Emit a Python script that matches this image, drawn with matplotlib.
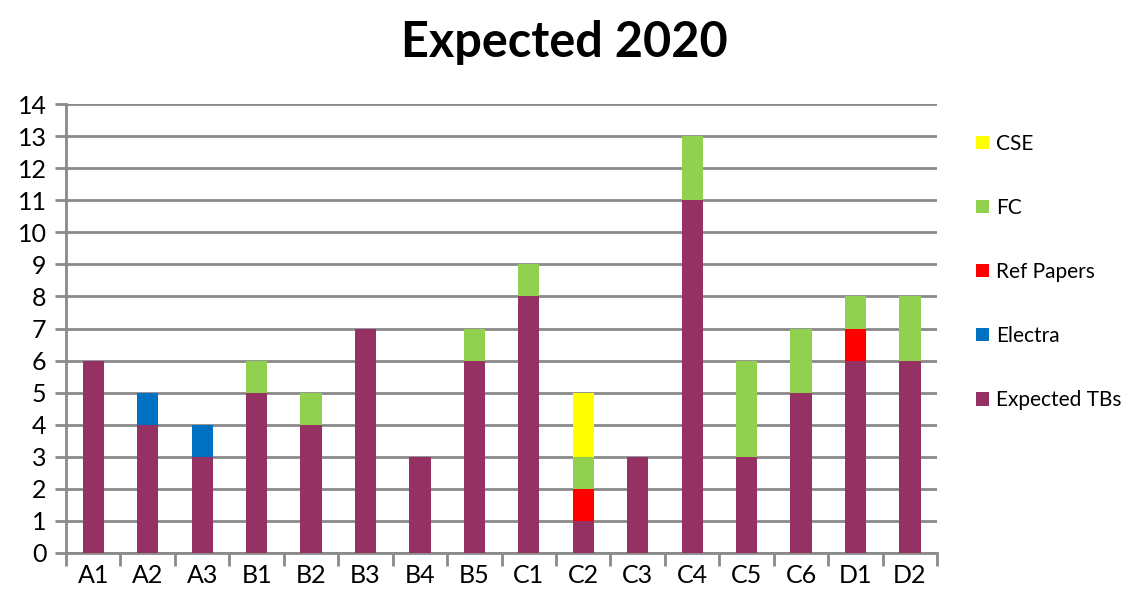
import numpy as np
import matplotlib
matplotlib.use("Agg")
import matplotlib.pyplot as plt

plt.rcParams['font.family'] = ['Lato', 'DejaVu Sans']

categories = ['A1', 'A2', 'A3', 'B1', 'B2', 'B3', 'B4', 'B5',
              'C1', 'C2', 'C3', 'C4', 'C5', 'C6', 'D1', 'D2']
expected_tbs = [6, 4, 3, 5, 4, 7, 3, 6, 8, 1, 3, 11, 3, 5, 6, 6]
electra      = [0, 1, 1, 0, 0, 0, 0, 0, 0, 0, 0, 0, 0, 0, 0, 0]
ref_papers   = [0, 0, 0, 0, 0, 0, 0, 0, 0, 1, 0, 0, 0, 0, 1, 0]
fc           = [0, 0, 0, 1, 1, 0, 0, 1, 1, 1, 0, 2, 3, 2, 1, 2]
cse          = [0, 0, 0, 0, 0, 0, 0, 0, 0, 2, 0, 0, 0, 0, 0, 0]

series = [
    ('Expected TBs', expected_tbs, '#953163'),
    ('Electra', electra, '#0070C0'),
    ('Ref Papers', ref_papers, '#FF0000'),
    ('FC', fc, '#92D050'),
    ('CSE', cse, '#FFFF00'),
]

fig = plt.figure(figsize=(11.25, 6.05), dpi=100)
ax = fig.add_axes([0.0587, 0.086, 0.7743, 0.742])

x = np.arange(len(categories))
bottom = np.zeros(len(categories))
handles = []
for name, vals, color in series:
    vals = np.array(vals, dtype=float)
    b = ax.bar(x, vals, width=0.39, bottom=bottom, color=color, label=name, zorder=3)
    handles.append(b)
    bottom += vals

ax.set_xlim(-0.5, len(categories) - 0.5)
ax.set_ylim(0, 14)
ax.set_yticks(range(0, 15))
ax.yaxis.grid(True, color='#8a8a8a', linewidth=2, zorder=0)
ax.set_xticks(x)
ax.set_xticklabels(categories)
ax.set_xticks(np.arange(-0.5, len(categories)), minor=True)
ax.tick_params(axis='x', which='major', length=0, pad=8, labelsize=18)
ax.tick_params(axis='x', which='minor', length=9, width=2, color='#8a8a8a')
ax.tick_params(axis='y', length=8, width=2, color='#8a8a8a', labelsize=18, pad=6)

for side in ['top', 'right']:
    ax.spines[side].set_visible(False)
for side in ['left', 'bottom']:
    ax.spines[side].set_color('#8a8a8a')
    ax.spines[side].set_linewidth(2)

fig.text(0.502, 0.93, 'Expected 2020', ha='center', va='center',
         fontsize=35, fontweight='bold')

fig.legend(handles[::-1], [s[0] for s in series][::-1], loc='upper left',
           bbox_to_anchor=(0.851, 0.81), frameon=False, fontsize=15,
           handlelength=0.6, handleheight=0.6, handletextpad=0.35,
           labelspacing=2.12)

fig.savefig('out.png', dpi=100)
